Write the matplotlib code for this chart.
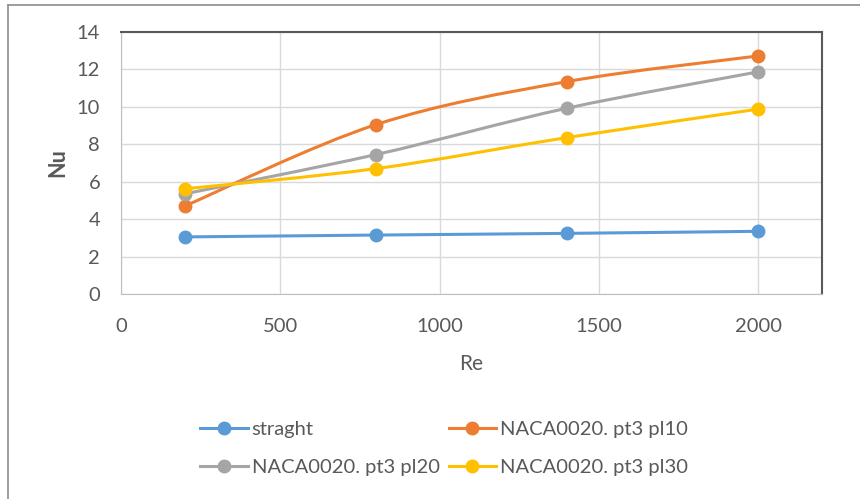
import numpy as np
import matplotlib.pyplot as plt
from matplotlib.path import Path
from matplotlib.patches import PathPatch
from matplotlib.lines import Line2D

plt.rcParams['font.family'] = ['Lato', 'DejaVu Sans']

# data
re_vals = [200, 800, 1400, 2000]
nu_straight = [3.05, 3.15, 3.24, 3.35]
nu_pl10 = [4.70, 9.05, 11.35, 12.72]
nu_pl20 = [5.35, 7.45, 9.93, 11.87]
nu_pl30 = [5.62, 6.70, 8.36, 9.88]

labels = ["straght", "NACA0020. pt3 pl10", "NACA0020. pt3 pl20", "NACA0020. pt3 pl30"]
colors = ["#5B9BD5", "#ED7D31", "#A5A5A5", "#FFC000"]
series = [nu_straight, nu_pl10, nu_pl20, nu_pl30]

text_col = "#595959"


def smooth_path(x, y, k=1/6):
    # Excel-like smoothed line: cubic bezier through the points
    x = np.asarray(x, float)
    y = np.asarray(y, float)
    n = len(x)
    verts = [(x[0], y[0])]
    codes = [Path.MOVETO]
    for i in range(n - 1):
        i0 = max(i - 1, 0)
        i3 = min(i + 2, n - 1)
        c1 = (x[i] + (x[i + 1] - x[i0]) * k, y[i] + (y[i + 1] - y[i0]) * k)
        c2 = (x[i + 1] - (x[i3] - x[i]) * k, y[i + 1] - (y[i3] - y[i]) * k)
        verts += [c1, c2, (x[i + 1], y[i + 1])]
        codes += [Path.CURVE4] * 3
    return Path(verts, codes)


fig = plt.figure(figsize=(8.6, 4.99), dpi=100)
ax = fig.add_axes([0.1407, 0.4108, 0.8151, 0.5251])

for vals, col in zip(series, colors):
    patch = PathPatch(smooth_path(re_vals, vals), facecolor="none",
                      edgecolor=col, lw=2.2, zorder=3, capstyle="round")
    ax.add_patch(patch)
    ax.plot(re_vals, vals, "o", color=col, ms=9, zorder=4)

ax.set_xlim(0, 2200)
ax.set_ylim(0, 14)
ax.set_xticks([0, 500, 1000, 1500, 2000])
ax.set_yticks(range(0, 15, 2))
ax.grid(True, color="#D9D9D9", lw=1)
ax.set_axisbelow(True)
ax.tick_params(length=0, labelsize=14.5, colors=text_col)
ax.tick_params(axis="x", pad=17)
ax.tick_params(axis="y", pad=15)

for s in ["left", "bottom"]:
    ax.spines[s].set_color("#BFBFBF")
for s in ["top", "right"]:
    ax.spines[s].set_color("#595959")
    ax.spines[s].set_linewidth(1.5)

ax.set_xlabel("Re", fontsize=15, color=text_col, labelpad=14)
ax.set_ylabel("Nu", fontsize=15.5, color=text_col, fontweight="bold", labelpad=6)

# legend in row order: straght, pl10 / pl20, pl30
order = [0, 2, 1, 3]
handles = [Line2D([], [], color=colors[i], lw=2.2, marker="o", ms=9) for i in order]
fig.legend(handles, [labels[i] for i in order], loc="upper left",
           bbox_to_anchor=(0.233, 0.157), ncol=2, frameon=False, fontsize=14.5,
           labelcolor=text_col, handlelength=2.35, handletextpad=0.2,
           columnspacing=0.45, labelspacing=1.05, borderaxespad=0, borderpad=0)

# outer chart frame (only left and top visible in reference)
fig.add_artist(Line2D([0.0093, 0.0093], [0.0, 0.99], transform=fig.transFigure,
                      color="#8C8C8C", lw=1.2))
fig.add_artist(Line2D([0.0093, 1.0], [0.99, 0.99], transform=fig.transFigure,
                      color="#8C8C8C", lw=1.2))

fig.savefig("out.png", dpi=100, facecolor="white")
